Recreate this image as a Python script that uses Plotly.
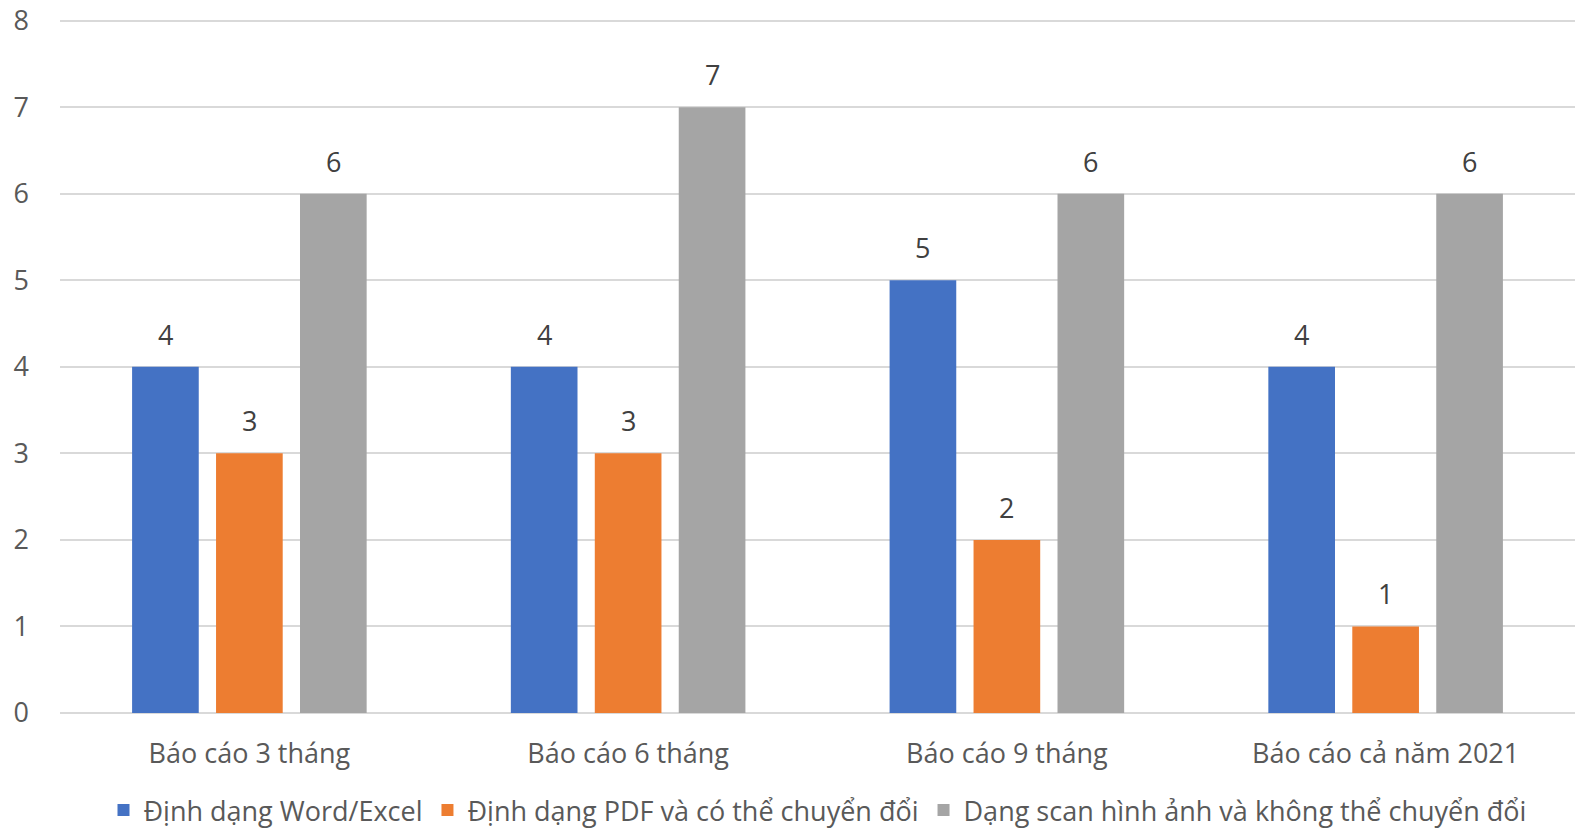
import plotly.graph_objects as go

categories = ["Báo cáo 3 tháng", "Báo cáo 6 tháng", "Báo cáo 9 tháng", "Báo cáo cả năm 2021"]
series_names = ["Định dạng Word/Excel", "Định dạng PDF và có thể chuyển đổi",
                "Dạng scan hình ảnh và không thể chuyển đổi"]
word_excel = [4, 4, 5, 4]
pdf_convert = [3, 3, 2, 1]
scan_image = [6, 7, 6, 6]
colors = ["#4472C4", "#ED7D31", "#A5A5A5"]

FONT = "Open Sans, Liberation Sans, sans-serif"
FS = 27

fig = go.Figure()
all_vals = [word_excel, pdf_convert, scan_image]
for i, (name, vals, col) in enumerate(zip(series_names, all_vals, colors)):
    fig.add_trace(go.Bar(
        x=categories, y=vals, name=name, marker=dict(color=col, line=dict(width=0)),
        offsetgroup=str(i),
    ))

# data labels as annotations positioned via axis coordinates
slot = (1 - 0.335) / 3
for i, vals in enumerate(all_vals):
    off = (i - 1) * slot
    for j, v in enumerate(vals):
        fig.add_annotation(x=j + off, y=v, xref="x", yref="y", text=str(v),
                           showarrow=False, yanchor="bottom", yshift=12,
                           font=dict(size=FS, color="#404040", family=FONT))

fig.update_layout(
    width=1575, height=835,
    margin=dict(l=60, r=0, t=18, b=117),
    paper_bgcolor="white", plot_bgcolor="white",
    barmode="group", bargap=0.335, bargroupgap=0.206,
    font=dict(family=FONT, color="#595959", size=FS),
    showlegend=True,
    legend=dict(orientation="h", x=0.5, xanchor="center", y=-0.105, yanchor="top",
                font=dict(size=FS, color="#595959"), itemwidth=30, tracegroupgap=0),
)
fig.update_xaxes(showgrid=False, showline=False, ticks="", tickfont=dict(size=FS, color="#595959"),
                 ticklabelstandoff=22, automargin=False, type="category")
fig.update_yaxes(range=[0, 8.03], tickvals=[0, 1, 2, 3, 4, 5, 6, 7, 8], showgrid=True,
                 gridcolor="#D9D9D9", gridwidth=1.5,
                 zeroline=True, zerolinecolor="#D9D9D9", zerolinewidth=1.5,
                 tickfont=dict(size=FS, color="#595959"), ticks="", ticklabelstandoff=30,
                 automargin=False)

fig.write_html("out.html", config={"displayModeBar": False},
               post_script="document.body.style.margin='0';document.body.style.overflow='hidden';")
